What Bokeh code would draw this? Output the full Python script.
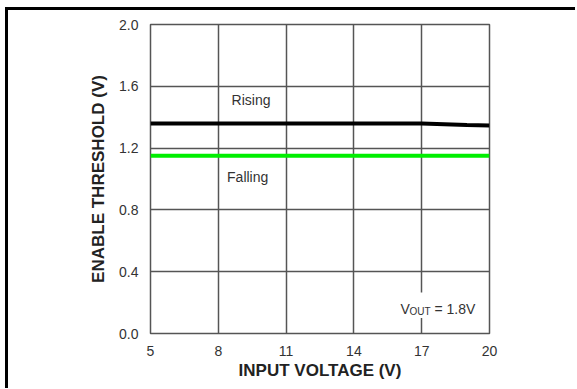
from bokeh.plotting import figure
from bokeh.models import Label, BoxAnnotation, FixedTicker, CustomJSTickFormatter
from bokeh.embed import file_html
from bokeh.resources import INLINE

input_voltage = [5, 8, 11, 14, 17, 18, 19, 20]
rising_threshold = [1.36, 1.36, 1.36, 1.36, 1.36, 1.355, 1.35, 1.347]
falling_threshold = [1.15, 1.15, 1.15, 1.15, 1.15, 1.15, 1.15, 1.15]
x_ticks = [5, 8, 11, 14, 17, 20]
y_ticks = [0.0, 0.4, 0.8, 1.2, 1.6, 2.0]

FONT = "Liberation Sans"
TXT = "#333333"
GRID = "#555555"

p = figure(frame_width=339, frame_height=309, x_range=(5, 20), y_range=(0, 2.0),
           output_backend="svg", toolbar_location=None,
           min_border_left=142, min_border_top=14, min_border_bottom=55, min_border_right=86)
p.styles = {"margin-left": "5px", "margin-top": "7px",
            "border-top": "3px solid black", "border-left": "3px solid black"}

p.outline_line_color = GRID
p.outline_line_width = 1.5
p.background_fill_color = "white"
p.border_fill_color = "white"

p.xaxis.ticker = FixedTicker(ticks=x_ticks)
p.yaxis.ticker = FixedTicker(ticks=y_ticks)
p.yaxis.formatter = CustomJSTickFormatter(code="return tick.toFixed(1);")

for ax in (p.xaxis, p.yaxis):
    ax.axis_line_color = None
    ax.major_tick_line_color = None
    ax.minor_tick_line_color = None
    ax.major_tick_out = 0
    ax.major_tick_in = 0
    ax.major_label_text_font = FONT
    ax.major_label_text_font_size = "14px"
    ax.major_label_text_color = TXT
    ax.axis_label_text_font = FONT
    ax.axis_label_text_font_style = "bold"
    ax.axis_label_text_font_size = "17px"
    ax.axis_label_text_color = "#222222"

p.xaxis.axis_label = "INPUT VOLTAGE (V)"
p.yaxis.axis_label = "ENABLE THRESHOLD (V)"
p.xaxis.major_label_standoff = 12
p.yaxis.major_label_standoff = 12
p.xaxis.axis_label_standoff = 2
p.yaxis.axis_label_standoff = 8

p.xgrid.ticker = FixedTicker(ticks=x_ticks)
p.ygrid.ticker = FixedTicker(ticks=y_ticks)
for g in (p.xgrid, p.ygrid):
    g.grid_line_color = GRID
    g.grid_line_width = 1.5
    g.grid_line_alpha = 1.0

p.line(input_voltage, rising_threshold, line_color="black", line_width=4)
p.line(input_voltage, falling_threshold, line_color="#00ee00", line_width=4)

p.add_layout(Label(x=9.45, y=1.51, text="Rising", text_align="center", text_baseline="middle",
                   text_font=FONT, text_font_size="14px", text_color=TXT))
p.add_layout(Label(x=9.3, y=1.01, text="Falling", text_align="center", text_baseline="middle",
                   text_font=FONT, text_font_size="14px", text_color=TXT))

p.add_layout(BoxAnnotation(left=15.9, right=19.7, bottom=0.1, top=0.265,
                           fill_color="white", fill_alpha=1.0, line_color=None))
vx, vy = 16.06, 0.16
p.add_layout(Label(x=vx, y=vy, text="V", text_baseline="alphabetic",
                   text_font=FONT, text_font_size="14px", text_color=TXT))
p.add_layout(Label(x=vx, y=vy, x_offset=9, y_offset=-3, text="OUT", text_baseline="alphabetic",
                   text_font=FONT, text_font_size="10px", text_color=TXT))
p.add_layout(Label(x=vx, y=vy, x_offset=34, text="= 1.8V", text_baseline="alphabetic",
                   text_font=FONT, text_font_size="14px", text_color=TXT))

open("out.html", "w").write(file_html(p, INLINE))
